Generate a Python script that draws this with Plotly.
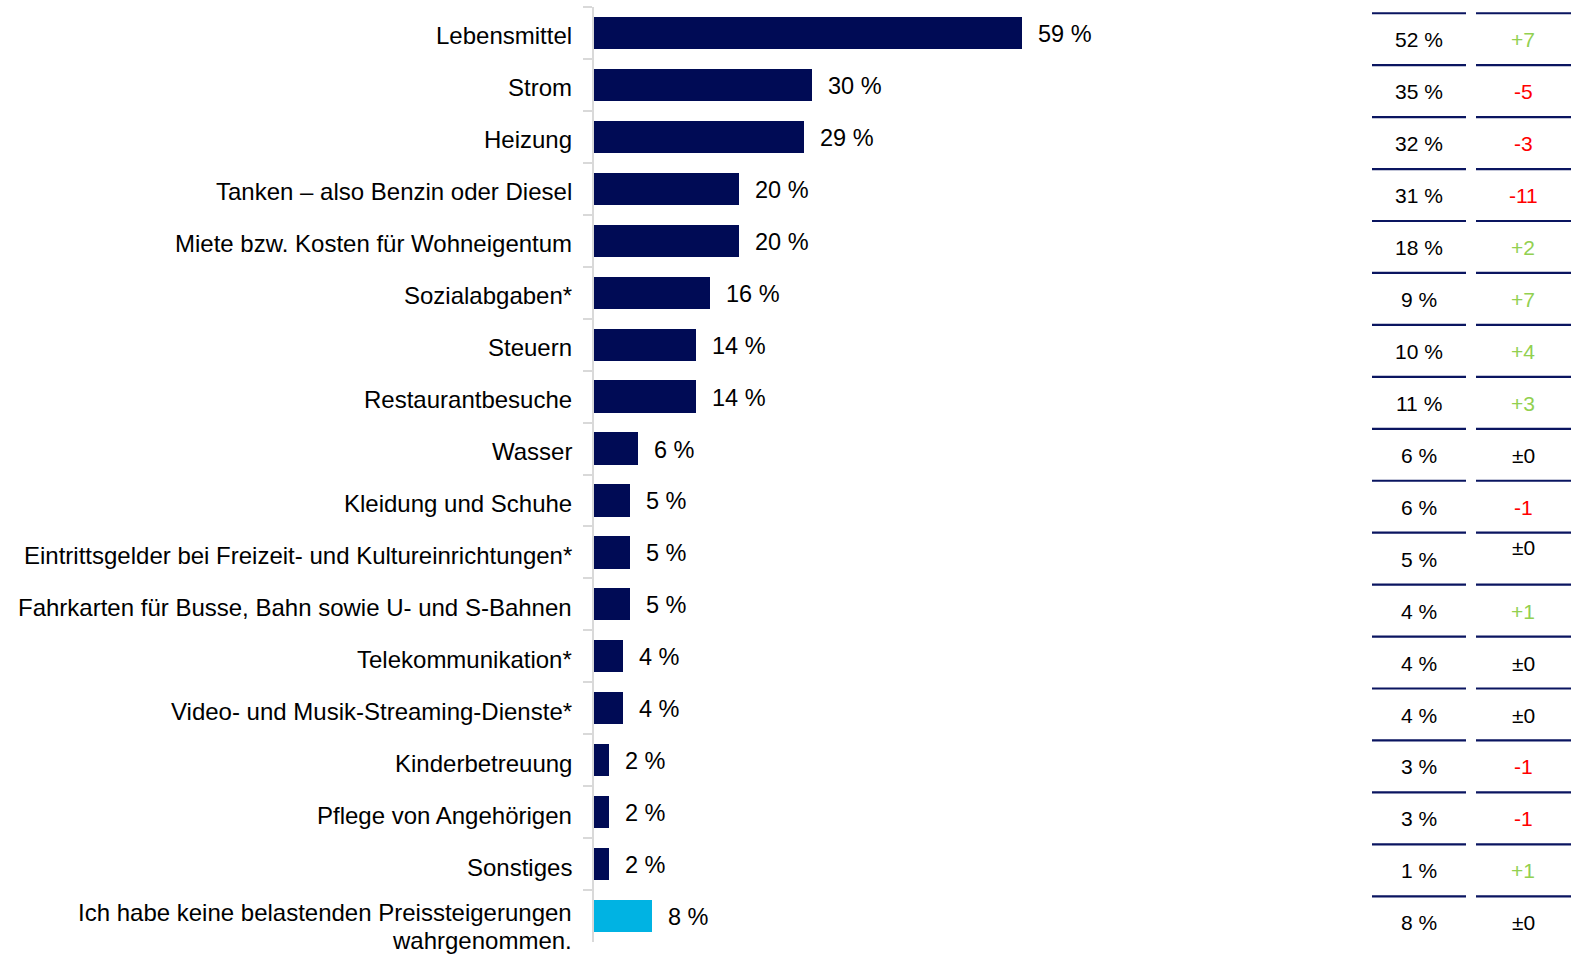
import plotly.graph_objects as go

# Survey results: which price increases are felt as a burden
categories = [
    "Lebensmittel",
    "Strom",
    "Heizung",
    "Tanken – also Benzin oder Diesel",
    "Miete bzw. Kosten für Wohneigentum",
    "Sozialabgaben*",
    "Steuern",
    "Restaurantbesuche",
    "Wasser",
    "Kleidung und Schuhe",
    "Eintrittsgelder bei Freizeit- und Kultureinrichtungen*",
    "Fahrkarten für Busse, Bahn sowie U- und S-Bahnen",
    "Telekommunikation*",
    "Video- und Musik-Streaming-Dienste*",
    "Kinderbetreuung",
    "Pflege von Angehörigen",
    "Sonstiges",
    "Ich habe keine belastenden Preissteigerungen<br>wahrgenommen.",
]
values = [59, 30, 29, 20, 20, 16, 14, 14, 6, 5, 5, 5, 4, 4, 2, 2, 2, 8]
previous = [52, 35, 32, 31, 18, 9, 10, 11, 6, 6, 5, 4, 4, 4, 3, 3, 1, 8]
change = ["+7", "-5", "-3", "-11", "+2", "+7", "+4", "+3", "±0", "-1", "±0",
          "+1", "±0", "±0", "-1", "-1", "+1", "±0"]

NAVY = "#000B55"
CYAN = "#00B3E3"
GREEN = "#92D050"
RED = "#FF0000"
FONT = "Liberation Sans, Arial, sans-serif"

W, H = 1594, 954
ML, MR, MT, MB = 594, 254, 7, 12
plot_w = W - ML - MR
XMAX = plot_w / 7.25


def paper_x(px):
    return (px - ML) / plot_w


bar_colors = [NAVY] * (len(values) - 1) + [CYAN]

fig = go.Figure(
    go.Bar(
        x=values,
        y=categories,
        orientation="h",
        marker=dict(color=bar_colors, line=dict(width=0)),
        width=0.62,
        hoverinfo="x+y",
    )
)

annotations = []
shapes = []

# category labels, right-aligned against the axis
for cat in categories:
    lines = cat.split("<br>")
    if len(lines) == 1:
        annotations.append(dict(
            x=0, y=cat, xref="paper", yref="y", text=cat, showarrow=False,
            xanchor="right", yanchor="middle", xshift=-20, yshift=-3,
            font=dict(size=24, color="#000000", family=FONT),
        ))
    else:
        for j, line in enumerate(lines):
            annotations.append(dict(
                x=0, y=cat, xref="paper", yref="y", text=line, showarrow=False,
                xanchor="right", yanchor="middle", xshift=-20,
                yshift=4 - 28.5 * j,
                font=dict(size=24, color="#000000", family=FONT),
            ))

# value labels next to each bar
for cat, v in zip(categories, values):
    annotations.append(dict(
        x=v, y=cat, xref="x", yref="y", text=f"{v} %", showarrow=False,
        xanchor="left", yanchor="middle", xshift=14, yshift=-1,
        font=dict(size=23.5, color="#000000", family=FONT),
    ))

# comparison table on the right: previous value and change
col1_x = paper_x(1419)
col2_x = paper_x(1523)
n = len(categories)
for i, (p, c) in enumerate(zip(previous, change)):
    color = GREEN if c.startswith("+") else (RED if c.startswith("-") else "#000000")
    annotations.append(dict(
        x=col1_x, y=i + 0.13, xref="paper", yref="y", text=f"{p} %",
        showarrow=False, xanchor="center", yanchor="middle",
        font=dict(size=21, color="#000000", family=FONT),
    ))
    dy = -0.1 if i == 10 else 0.13
    annotations.append(dict(
        x=col2_x, y=i + dy, xref="paper", yref="y", text=c,
        showarrow=False, xanchor="center", yanchor="middle",
        font=dict(size=21, color=color, family=FONT),
    ))

for k in range(n + 1):
    yb = k - 0.5 + 0.12
    for x0, x1 in ((1372, 1466), (1476, 1571)):
        shapes.append(dict(
            type="line", xref="paper", yref="y",
            x0=paper_x(x0), x1=paper_x(x1), y0=yb, y1=yb,
            line=dict(color="#0A1560", width=2.2),
        ))

fig.update_layout(
    width=W,
    height=H,
    margin=dict(l=ML, r=MR, t=MT, b=MB, pad=0),
    paper_bgcolor="white",
    plot_bgcolor="white",
    showlegend=False,
    bargap=0,
    font=dict(family=FONT, size=23, color="#000000"),
    annotations=annotations,
    shapes=shapes,
    xaxis=dict(
        range=[0, XMAX], visible=False, fixedrange=True,
    ),
    yaxis=dict(
        type="category",
        categoryorder="array",
        categoryarray=categories,
        range=[n - 0.5, -0.5],
        showline=True,
        linecolor="#D9D9D9",
        linewidth=2,
        ticks="outside",
        tickson="boundaries",
        ticklen=9,
        tickwidth=2,
        tickcolor="#D9D9D9",
        showticklabels=False,
        showgrid=False,
        fixedrange=True,
    ),
)

fig.write_html("out.html")
